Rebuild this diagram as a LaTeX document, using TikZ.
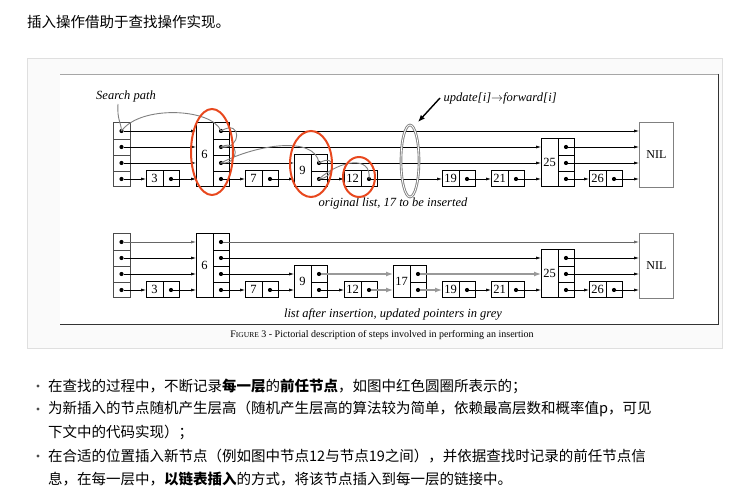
\documentclass[tikz,border=0pt]{standalone}
\usepackage{fontspec}
\setmainfont{Liberation Serif}
\newfontfamily\cjk{Noto Sans CJK SC}
\usetikzlibrary{arrows.meta,calc}
\definecolor{redc}{RGB}{232,72,30}
\tikzset{
 box/.style={draw,line width=1.1pt,inner sep=0,anchor=south west},
 ptr/.style={line width=0.6pt,-{Latex[length=5pt,width=3pt]}},
 gptr/.style={line width=1.2pt,gray!80,-{Latex[length=7pt,width=5pt]}},
 spath/.style={line width=0.9pt,gray},
 dotc/.style={circle,fill,inner sep=0,minimum size=4.2pt},
 lab/.style={font=\itshape\fontsize{12.5}{14}\selectfont},
 ctext/.style={font=\cjk\fontsize{14.5}{16}\selectfont,anchor=west,inner sep=0},
}
% #1 name #2 left x #3 key #4 levels #5 bottom row y
\newcommand\snode[5]{%
 \node[box,minimum width=33pt,minimum height={16pt*#4}] (#1) at (#2,#5+8) {};
 \node[font=\fontsize{12.5}{14}\selectfont,inner sep=0] at ($(#1.west)+(8.5,0)$) {#3};
 \draw[line width=0.6pt] ($(#1.south west)+(17,0)$) -- ($(#1.north west)+(17,0)$);
 \foreach \i in {1,...,#4}{%
  \node[dotc] (#1-\i) at ({#2+25},{#5-16*(\i-1)}) {};
  \coordinate (#1-in\i) at (#2,{#5-16*(\i-1)});
  \ifnum\i>1 \draw[line width=0.5pt] ({#2+17},{#5-16*(\i-1)+8}) -- ({#2+33},{#5-16*(\i-1)+8});\fi
 }}
\newcommand\shead[2]{%
 \node[box,draw=black!70,line width=0.7pt,minimum width=17pt,minimum height=64pt] (#1) at (113,#2+8) {};
 \foreach \i in {1,...,4}{%
  \node[dotc] (#1-\i) at (121.5,{#2-16*(\i-1)}) {};
  \ifnum\i>1 \draw[line width=0.5pt,black!70] (113,{#2-16*(\i-1)+8}) -- (130,{#2-16*(\i-1)+8});\fi
 }}
\newcommand\snil[2]{%
 \node[box,draw=gray,line width=0.8pt,minimum width=34pt,minimum height=65pt] (#1) at (639,#2+8.5) {};
 \node[font=\fontsize{12}{14}\selectfont] at (#1.center) {NIL};
 \foreach \i in {1,...,4}{\coordinate (#1-in\i) at (639,{#2-16*(\i-1)});}}
\begin{document}
\begin{tikzpicture}[x=1pt,y=-1pt]
\useasboundingbox (0,0) rectangle (750,502);
\fill[white] (0,0) rectangle (750,502);
\node[ctext] (title) at (27,22) {插入操作借助于查找操作实现。};
\draw[gray!25,fill=gray!4] (27,58) rectangle (722,348);
\fill[white] (60,74) rectangle (718,325);
\draw[gray!70,line width=0.8pt] (60,74) -- (718,74);
\draw[black!80,line width=1pt] (718,74) -- (718,325) -- (60,325);
% ---------- top list
\shead{th}{179}
\snode{t3}{146}{3}{1}{179}
\snode{t6}{196}{6}{4}{179}
\snode{t7}{245}{7}{1}{179}
\snode{t9}{294}{9}{2}{179}
\snode{t12}{344}{12}{1}{179}
\snode{t19}{442}{19}{1}{179}
\snode{t21}{491}{21}{1}{179}
\snode{t25}{541}{25}{3}{179}
\snode{t26}{589}{26}{1}{179}
\snil{tn}{179}
\draw[ptr] (th-1) -- (t3-in1);
\draw[ptr] (t3-1) -- (t6-in1);
\draw[ptr] (t6-1) -- (t7-in1);
\draw[ptr] (t7-1) -- (t9-in1);
\draw[ptr] (t9-1) -- (t12-in1);
\draw[ptr] (t12-1) -- (t19-in1);
\draw[ptr] (t19-1) -- (t21-in1);
\draw[ptr] (t21-1) -- (t25-in1);
\draw[ptr] (t25-1) -- (t26-in1);
\draw[ptr] (t26-1) -- (tn-in1);
\draw[ptr] (th-2) -- (t6-in2);
\draw[ptr] (t6-2) -- (t9-in2);
\draw[ptr] (t9-2) -- (t25-in2);
\draw[ptr] (t25-2) -- (tn-in2);
\draw[ptr] (th-3) -- (t6-in3);
\draw[ptr] (t6-3) -- (t25-in3);
\draw[ptr] (t25-3) -- (tn-in3);
\draw[ptr] (th-4) -- (t6-in4);
\draw[ptr] (t6-4) -- (tn-in4);
% search path
\node[lab] (sp) at (126,96) {Search path};
\draw[spath] (118,104) .. controls (117,120) and (121,122) .. (th-4.center);
\draw[spath] (th-4.center) .. controls (140,105) and (212,108) .. (t6-4.center)
  .. controls (242,118) and (242,150) .. (t6-3.center)
  .. controls (240,138) and (240,165) .. (t6-2.center)
  .. controls (255,145) and (315,135) .. (t9-2.center)
  .. controls (338,152) and (336,178) .. (t9-1.center)
  .. controls (340,160) and (372,155) .. (t12-1.center);
% grey ring
\draw[gray,line width=2.6pt] (410,161) ellipse [x radius=9, y radius=36];
\draw[white,line width=0.8pt] (410,161) ellipse [x radius=9, y radius=36];
\node[lab,anchor=west] (upd) at (440,98) {update[\textup{\textit{i}}]$\rightarrow$forward[\textup{\textit{i}}]};
\draw[line width=1.4pt,-{Latex[length=7pt,width=5.5pt]}] (upd.west) -- (418,122);
\node[lab] (orig) at (393,203) {original list, 17 to be inserted};
% red circles
\draw[redc,line width=2pt] (212,152) ellipse [x radius=21, y radius=43];
\draw[redc,line width=2pt] (311,164) ellipse [x radius=21, y radius=33];
\draw[redc,line width=2pt] (359,177) ellipse [x radius=16, y radius=20];
% ---------- bottom list
\shead{bh}{290}
\snode{b3}{146}{3}{1}{290}
\snode{b6}{196}{6}{4}{290}
\snode{b7}{245}{7}{1}{290}
\snode{b9}{294}{9}{2}{290}
\snode{b12}{344}{12}{1}{290}
\snode{b17}{393}{17}{2}{290}
\snode{b19}{442}{19}{1}{290}
\snode{b21}{491}{21}{1}{290}
\snode{b25}{541}{25}{3}{290}
\snode{b26}{589}{26}{1}{290}
\snil{bn}{290}
\draw[ptr] (bh-1) -- (b3-in1);
\draw[ptr] (b3-1) -- (b6-in1);
\draw[ptr] (b6-1) -- (b7-in1);
\draw[ptr] (b7-1) -- (b9-in1);
\draw[ptr] (b9-1) -- (b12-in1);
\draw[gptr] (b12-1) -- (b17-in1);
\draw[gptr] (b17-1) -- (b19-in1);
\draw[ptr] (b19-1) -- (b21-in1);
\draw[ptr] (b21-1) -- (b25-in1);
\draw[ptr] (b25-1) -- (b26-in1);
\draw[ptr] (b26-1) -- (bn-in1);
\draw[ptr] (bh-2) -- (b6-in2);
\draw[ptr] (b6-2) -- (b9-in2);
\draw[gptr] (b9-2) -- (b17-in2);
\draw[gptr] (b17-2) -- (b25-in2);
\draw[ptr] (b25-2) -- (bn-in2);
\draw[ptr] (bh-3) -- (b6-in3);
\draw[ptr] (b6-3) -- (b25-in3);
\draw[ptr] (b25-3) -- (bn-in3);
\draw[ptr,black!60] (bh-4) -- (b6-in4);
\draw[ptr,black!60] (b6-4) -- (bn-in4);
\node[lab] (after) at (393,314) {list after insertion, updated pointers in grey};
\node[font=\fontsize{10}{12}\selectfont] (cap) at (382,335) {F{\fontsize{7.5}{9}\selectfont IGURE} 3 - Pictorial description of steps involved in performing an insertion};
% ---------- bullets
\foreach \y in {386,409,456}{\fill[black!70] (38,\y) circle (1.7);}
\node[ctext] (l1) at (48,386) {在查找的过程中，不断记录\textbf{每一层}的\textbf{前任节点}，如图中红色圆圈所表示的；};
\node[ctext] (l2) at (48,409) {为新插入的节点随机产生层高（随机产生层高的算法较为简单，依赖最高层数和概率值p，可见};
\node[ctext] (l3) at (48,432) {下文中的代码实现）；};
\node[ctext] (l4) at (48,456) {在合适的位置插入新节点（例如图中节点12与节点19之间），并依据查找时记录的前任节点信};
\node[ctext] (l5) at (48,479) {息，在每一层中，\textbf{以链表插入}的方式，将该节点插入到每一层的链接中。};
\end{tikzpicture}
\end{document}
